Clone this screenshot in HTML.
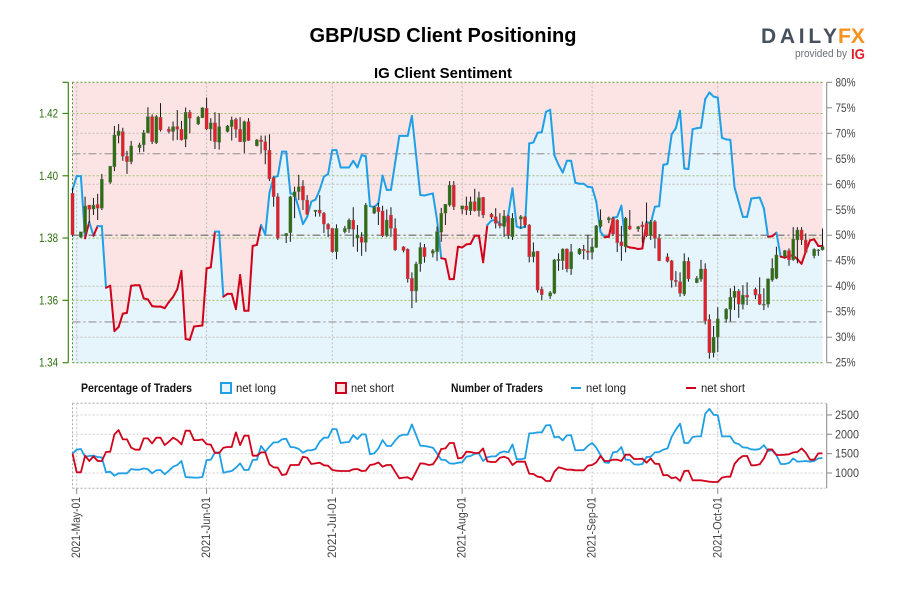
<!DOCTYPE html>
<html lang="en">
<head>
<meta charset="utf-8">
<title>GBP/USD Client Positioning</title>
<style>
html,body{margin:0;padding:0;background:#fff;width:900px;height:600px;overflow:hidden}
svg{display:block}
text{font-family:"Liberation Sans",Arial,sans-serif}
</style>
</head>
<body>
<svg id="chart" xmlns="http://www.w3.org/2000/svg" width="900" height="600" viewBox="0 0 900 600">
  <rect x="0" y="0" width="900" height="600" fill="#ffffff"/>
  <text x="443" y="42" text-anchor="middle" font-size="20" font-weight="bold" fill="#000" textLength="267" lengthAdjust="spacingAndGlyphs">GBP/USD Client Positioning</text>
  <text x="443" y="78" text-anchor="middle" font-size="15" font-weight="bold" fill="#000" textLength="138" lengthAdjust="spacingAndGlyphs">IG Client Sentiment</text>
  <g>
    <text x="761" y="43" font-size="21" font-weight="bold" fill="#47505c" textLength="76" lengthAdjust="spacing">DAILY</text>
    <text x="838" y="43" font-size="21" font-weight="bold" fill="#f7921e" textLength="27" lengthAdjust="spacingAndGlyphs">FX</text>
    <text x="795" y="57" font-size="11" fill="#6b7078" textLength="52" lengthAdjust="spacingAndGlyphs">provided by</text>
    <text x="851" y="59" font-size="15" font-weight="bold" fill="#e0202e" textLength="14" lengthAdjust="spacingAndGlyphs">IG</text>
  </g>
  <g id="main-panel"></g>
  <g id="lower-panel"></g>
  <g font-size="12" fill="#222">
    <text x="81" y="392" font-weight="bold" fill="#111" textLength="111" lengthAdjust="spacingAndGlyphs">Percentage of Traders</text>
    <rect x="221" y="383" width="10" height="10" fill="#e6f4fc" stroke="#1f9fe6" stroke-width="2"/>
    <text x="236" y="392" textLength="40" lengthAdjust="spacingAndGlyphs">net long</text>
    <rect x="336" y="383" width="10" height="10" fill="#fce4e4" stroke="#d0021b" stroke-width="2"/>
    <text x="351" y="392" textLength="43" lengthAdjust="spacingAndGlyphs">net short</text>
    <text x="451" y="392" font-weight="bold" fill="#111" textLength="92" lengthAdjust="spacingAndGlyphs">Number of Traders</text>
    <line x1="571" y1="388" x2="581" y2="388" stroke="#1f9fe6" stroke-width="2"/>
    <text x="586" y="392" textLength="40" lengthAdjust="spacingAndGlyphs">net long</text>
    <line x1="686" y1="388" x2="696" y2="388" stroke="#d0021b" stroke-width="2"/>
    <text x="701" y="392" textLength="44" lengthAdjust="spacingAndGlyphs">net short</text>
  </g>
</svg>
<script>
var dateTickDays = [0,31,61,92,123,153];
var dateTickLabels = ["2021-May-01","2021-Jun-01","2021-Jul-01","2021-Aug-01","2021-Sep-01","2021-Oct-01"];
var priceTicks = [1.34,1.36,1.38,1.40,1.42];
var priceTickLabels = ["1.34","1.36","1.38","1.40","1.42"];
var percentTicks = [25,30,35,40,45,50,55,60,65,70,75,80];
var percentGrid = [30,40,60,70];
var percentLevels = [66,50,33];
var traderTicks = [1000,1500,2000,2500];

var firstSeriesDay = -1;
var percentLong = [58.9,61.6,61.6,49.4,52.6,49.9,51.8,51.8,39.7,40.1,31.2,32.0,34.6,34.8,40.1,40.2,40.2,37.6,37.4,36.1,36.0,36.0,35.7,36.9,37.9,39.4,43.0,29.65,29.5,32.1,32.2,32.3,43.5,43.7,50.7,50.7,37.95,38.5,38.5,35.5,42.2,35.2,35.2,47.9,48.1,52.0,50.1,58.3,61.4,61.6,66.4,66.4,58.2,58.0,55.3,52.2,53.6,56.6,57.0,58.9,61.5,62.0,66.7,66.7,63.3,63.3,63.3,64.6,63.3,65.7,65.5,55.7,55.5,56.3,61.7,58.9,58.9,64.2,69.5,69.5,69.5,73.4,65.7,57.9,57.8,58.0,58.2,53.0,45.5,45.3,41.4,41.4,47.75,47.6,48.2,48.3,49.9,49.9,44.7,52.0,52.9,53.0,52.2,52.0,54.0,59.2,51.7,51.4,51.7,68.0,68.2,70.1,70.2,74.2,74.6,65.7,63.8,62.3,64.6,64.6,60.3,60.1,60.1,59.5,59.4,56.6,50.7,49.6,49.7,53.4,53.6,55.8,47.9,47.6,47.5,47.3,47.4,52.6,52.3,55.6,55.7,63.8,64.0,69.8,71.0,74.4,63.1,63.0,70.8,71.0,71.1,76.7,78.0,77.2,77.0,69.1,68.8,68.7,59.4,56.5,53.6,53.6,57.2,57.3,57.4,55.3,49.7,49.8,50.5,45.8,45.6,46.0,46.0,45.3,44.4,46.8,49.0,49.2,47.9,47.9];

var tradersLong = [1507,1602,1619,1421,1439,1447,1413,1404,1017,1034,931,991,991,991,1103,1086,1086,1120,1095,991,1069,1077,966,1060,1163,1206,1310,897,888,880,880,897,1335,1344,1533,1533,1009,1034,1052,1138,1249,1077,1077,1335,1344,1697,1550,1679,1791,1791,1869,1886,1671,1662,1619,1525,1585,1585,1619,1808,1912,1912,2135,2135,1774,1791,1800,1980,1877,1998,1998,1482,1507,1636,1851,1697,1697,1834,1955,1989,1989,2256,1980,1705,1697,1679,1654,1507,1344,1335,1249,1241,1267,1275,1421,1439,1499,1507,1310,1404,1430,1430,1525,1559,1533,1740,1353,1353,1378,2023,2032,2049,2049,2230,2238,1920,1937,1843,1972,1980,1585,1593,1593,1705,1774,1654,1464,1275,1258,1533,1550,1671,1344,1335,1224,1215,1232,1413,1421,1533,1542,1602,1636,1937,2127,2273,1774,1774,1929,1946,1946,2531,2660,2505,2496,1946,1946,1946,1783,1748,1662,1654,1611,1602,1619,1722,1568,1585,1464,1232,1232,1258,1378,1292,1301,1310,1292,1310,1378,1387];

var tradersShort = [1507,1017,1017,1447,1310,1430,1310,1310,1542,1550,1998,2109,1869,1869,1654,1602,1602,1894,1894,1765,1912,1912,1722,1808,1912,1851,1740,2092,2092,1851,1851,1869,1748,1731,1516,1516,1654,1671,1671,2049,1722,1963,1963,1447,1447,1533,1533,1224,1146,1138,948,966,1206,1206,1206,1421,1396,1232,1249,1267,1198,1189,1077,1060,1052,1052,1052,1095,1103,1052,1060,1206,1224,1275,1163,1206,1206,1034,862,880,888,828,1034,1249,1241,1206,1224,1378,1619,1636,1774,1774,1378,1396,1550,1542,1516,1516,1636,1301,1284,1284,1396,1421,1378,1206,1292,1292,1292,983,974,905,888,794,794,1034,1146,1120,1086,1086,1069,1069,1069,1189,1206,1275,1439,1310,1310,1344,1344,1310,1473,1473,1361,1361,1370,1267,1378,1241,1232,940,948,862,888,794,1052,1060,811,811,811,794,776,768,768,880,905,905,1232,1361,1439,1439,1198,1198,1224,1378,1611,1611,1464,1464,1473,1482,1533,1542,1636,1525,1344,1344,1507,1507];

var candleDays = [-1,1,2,3,4,5,6,8,9,10,11,12,13,15,16,17,18,19,20,22,23,24,25,26,27,29,30,31,32,33,34,36,37,38,39,40,41,43,44,45,46,47,48,50,51,52,53,54,55,57,58,59,60,61,62,64,65,66,67,68,69,71,72,73,74,75,76,78,79,80,81,82,83,85,86,87,88,89,90,92,93,94,95,96,97,99,100,101,102,103,104,106,107,108,109,110,111,113,114,115,116,117,118,120,121,122,123,124,125,127,128,129,130,131,132,134,135,136,137,138,139,141,142,143,144,145,146,148,149,150,151,152,153,155,156,157,158,159,160,162,163,164,165,166,167,169,170,171,172,173,174,176,177,178];

var candleHigh = [1.3961,1.3820,1.3933,1.3906,1.3929,1.3942,1.4006,1.4031,1.4160,1.4166,1.4154,1.4080,1.4112,1.4106,1.4147,1.4220,1.4197,1.4195,1.4233,1.4158,1.4174,1.4211,1.4176,1.4219,1.4211,1.4192,1.4220,1.4251,1.4185,1.4204,1.4201,1.4163,1.4190,1.4186,1.4188,1.4177,1.4185,1.4118,1.4129,1.4129,1.4133,1.3997,1.3944,1.3816,1.3936,1.3965,1.4003,1.3986,1.3938,1.3890,1.3938,1.3884,1.3848,1.3832,1.3844,1.3839,1.3863,1.3899,1.3842,1.3819,1.3913,1.3904,1.3913,1.3904,1.3892,1.3899,1.3863,1.3774,1.3767,1.3690,1.3724,1.3786,1.3781,1.3765,1.3837,1.3897,1.3909,1.3983,1.3983,1.3904,1.3933,1.3933,1.3958,1.3949,1.3931,1.3881,1.3896,1.3880,1.3890,1.3874,1.3880,1.3874,1.3871,1.3845,1.3786,1.3759,1.3644,1.3630,1.3733,1.3751,1.3767,1.3767,1.3781,1.3768,1.3778,1.3810,1.3800,1.3842,1.3892,1.3869,1.3869,1.3861,1.3839,1.3868,1.3890,1.3839,1.3853,1.3914,1.3858,1.3858,1.3813,1.3751,1.3730,1.3694,1.3690,1.3751,1.3738,1.3678,1.3730,1.3719,1.3555,1.3518,1.3578,1.3575,1.3639,1.3647,1.3636,1.3649,1.3658,1.3641,1.3674,1.3639,1.3671,1.3735,1.3772,1.3762,1.3767,1.3835,1.3835,1.3835,1.3815,1.3767,1.3765,1.3831];

var candleLow = [1.3804,1.3800,1.3817,1.3848,1.3874,1.3858,1.3890,1.3974,1.4015,1.4104,1.4048,1.4006,1.4037,1.4075,1.4077,1.4136,1.4102,1.4102,1.4142,1.4136,1.4113,1.4115,1.4113,1.4092,1.4136,1.4163,1.4185,1.4147,1.4112,1.4086,1.4084,1.4139,1.4113,1.4122,1.4109,1.4073,1.4112,1.4094,1.4072,1.4037,1.3983,1.3901,1.3794,1.3784,1.3788,1.3864,1.3922,1.3890,1.3874,1.3869,1.3869,1.3816,1.3803,1.3753,1.3732,1.3815,1.3817,1.3772,1.3756,1.3743,1.3756,1.3877,1.3842,1.3803,1.3803,1.3804,1.3759,1.3754,1.3657,1.3575,1.3593,1.3692,1.3721,1.3738,1.3727,1.3788,1.3842,1.3901,1.3890,1.3877,1.3874,1.3874,1.3885,1.3869,1.3864,1.3861,1.3831,1.3831,1.3804,1.3797,1.3794,1.3831,1.3832,1.3722,1.3722,1.3625,1.3601,1.3605,1.3620,1.3695,1.3698,1.3690,1.3682,1.3746,1.3732,1.3730,1.3732,1.3768,1.3832,1.3848,1.3807,1.3755,1.3727,1.3754,1.3826,1.3820,1.3785,1.3803,1.3794,1.3767,1.3726,1.3722,1.3641,1.3644,1.3612,1.3614,1.3660,1.3655,1.3660,1.3523,1.3413,1.3417,1.3434,1.3528,1.3532,1.3569,1.3544,1.3571,1.3585,1.3604,1.3585,1.3569,1.3577,1.3660,1.3668,1.3738,1.3711,1.3727,1.3719,1.3778,1.3753,1.3735,1.3743,1.3760];

var candleOpen = [1.3944,1.3803,1.3817,1.3906,1.3893,1.3908,1.3896,1.3979,1.4029,1.4129,1.4142,1.4063,1.4045,1.4090,1.4099,1.4138,1.4190,1.4106,1.4188,1.4150,1.4142,1.4158,1.4149,1.4117,1.4204,1.4166,1.4186,1.4217,1.4150,1.4170,1.4107,1.4142,1.4158,1.4181,1.4149,1.4109,1.4174,1.4096,1.4115,1.4109,1.4082,1.3994,1.3933,1.3807,1.3817,1.3933,1.3949,1.3967,1.3922,1.3885,1.3890,1.3880,1.3844,1.3831,1.3756,1.3820,1.3829,1.3858,1.3800,1.3804,1.3786,1.3880,1.3899,1.3887,1.3808,1.3874,1.3831,1.3772,1.3764,1.3671,1.3630,1.3717,1.3770,1.3751,1.3756,1.3819,1.3880,1.3906,1.3970,1.3893,1.3903,1.3888,1.3917,1.3888,1.3931,1.3877,1.3869,1.3847,1.3837,1.3871,1.3804,1.3861,1.3868,1.3842,1.3740,1.3758,1.3636,1.3614,1.3623,1.3727,1.3727,1.3765,1.3701,1.3749,1.3764,1.3759,1.3754,1.3770,1.3837,1.3858,1.3864,1.3858,1.3788,1.3772,1.3839,1.3829,1.3842,1.3847,1.3808,1.3853,1.3799,1.3740,1.3727,1.3665,1.3660,1.3620,1.3726,1.3657,1.3668,1.3701,1.3539,1.3432,1.3482,1.3540,1.3571,1.3609,1.3630,1.3587,1.3617,1.3636,1.3620,1.3585,1.3588,1.3665,1.3671,1.3740,1.3760,1.3730,1.3794,1.3826,1.3794,1.3743,1.3759,1.3762];

var candleClose = [1.3810,1.3820,1.3903,1.3892,1.3906,1.3896,1.3989,1.4031,1.4131,1.4144,1.4063,1.4045,1.4096,1.4099,1.4138,1.4190,1.4109,1.4190,1.4147,1.4142,1.4158,1.4149,1.4115,1.4204,1.4185,1.4188,1.4218,1.4150,1.4170,1.4109,1.4158,1.4160,1.4179,1.4149,1.4109,1.4174,1.4113,1.4115,1.4109,1.4082,1.3990,1.3933,1.3799,1.3815,1.3933,1.3949,1.3965,1.3922,1.3876,1.3890,1.3880,1.3845,1.3829,1.3756,1.3831,1.3831,1.3858,1.3828,1.3810,1.3786,1.3906,1.3899,1.3885,1.3808,1.3858,1.3831,1.3762,1.3760,1.3669,1.3630,1.3717,1.3770,1.3740,1.3760,1.3821,1.3880,1.3909,1.3970,1.3901,1.3904,1.3890,1.3917,1.3888,1.3930,1.3874,1.3867,1.3847,1.3840,1.3871,1.3810,1.3864,1.3869,1.3842,1.3740,1.3756,1.3633,1.3618,1.3625,1.3730,1.3732,1.3765,1.3701,1.3756,1.3765,1.3759,1.3754,1.3772,1.3839,1.3858,1.3865,1.3813,1.3785,1.3775,1.3864,1.3829,1.3837,1.3836,1.3807,1.3853,1.3799,1.3727,1.3725,1.3665,1.3660,1.3623,1.3726,1.3669,1.3671,1.3701,1.3534,1.3432,1.3482,1.3541,1.3572,1.3610,1.3630,1.3588,1.3617,1.3610,1.3617,1.3587,1.3588,1.3669,1.3703,1.3746,1.3760,1.3730,1.3797,1.3826,1.3794,1.3754,1.3764,1.3762,1.3772];

var SVGNS = "http://www.w3.org/2000/svg";
var mainPanel = document.getElementById("main-panel");
var lowerPanel = document.getElementById("lower-panel");
var plotLeft = 72.5, plotRight = 822.5, axisRight = 826.7;
var mainTop = 82.3, mainBottom = 362.7, lowerTop = 403.3, lowerBottom = 488.3;

function xDay(d){ return 76.7 + 4.19 * d; }
function yPrice(p){ return mainBottom - (p - 1.34) / 0.09 * (mainBottom - mainTop); }
function yPercent(v){ return mainBottom - (v - 25) / 55 * (mainBottom - mainTop); }
function yTraders(v){ return 473 - (v - 1000) * 0.0387; }

function make(tag, attrs, parent){
  var el = document.createElementNS(SVGNS, tag);
  for (var k in attrs) el.setAttribute(k, attrs[k]);
  parent.appendChild(el);
  return el;
}
var el;

/* main panel backgrounds */
el = make("rect", {x:plotLeft, y:mainTop, width:plotRight-plotLeft, height:mainBottom-mainTop, fill:"#fce4e4"}, mainPanel);


var areaPts = [plotLeft.toFixed(1)+","+mainBottom];
percentLong.forEach(function(v,i){ areaPts.push(xDay(i+firstSeriesDay).toFixed(1)+","+yPercent(v).toFixed(1)); });
areaPts.push(plotRight.toFixed(1)+","+mainBottom);
el = make("polygon", {points:areaPts.join(" "), fill:"#e6f4fc"}, mainPanel);



/* percent grid */
percentGrid.forEach(function(v){
  el = make("line", {x1:plotLeft, x2:plotRight, y1:yPercent(v), y2:yPercent(v), stroke:"#c4bcbc", "stroke-width":1, "stroke-dasharray":"2 2"}, mainPanel);
  
  
});
/* price grid */
priceTicks.concat([1.43]).forEach(function(p){
  var isEdge = (p === 1.34 || p === 1.43);
  el = make("line", {x1:plotLeft, x2:plotRight+(isEdge?2:0), y1:yPrice(p), y2:yPrice(p), stroke:isEdge?"#5c9a2c":"#9cc070", "stroke-width":1, "stroke-dasharray":"2 2"}, mainPanel);
  
  
});
/* date grid */
dateTickDays.forEach(function(d){
  el = make("line", {x1:xDay(d), x2:xDay(d), y1:mainTop, y2:mainBottom, stroke:"#c4bcbc", "stroke-width":1, "stroke-dasharray":"2 2"}, mainPanel);
  
  
});
el = make("line", {x1:plotLeft, x2:plotLeft, y1:mainTop, y2:mainBottom, stroke:"#5c8a3c", "stroke-width":1, "stroke-dasharray":"2 2"}, mainPanel);



/* sentiment levels */
percentLevels.forEach(function(v,i){
  el = make("line", {x1:plotLeft, x2:plotRight, y1:yPercent(v), y2:yPercent(v), stroke:i===1?"#8a8a8a":"#aaa6a6", "stroke-width":i===1?1.6:1.3, "stroke-dasharray":"8 3 2 3"}, mainPanel);
  
  
});

/* sentiment line: each segment takes the colour of its start point */
percentLong.forEach(function(v,i){
  if (i === percentLong.length-1) return;
  var d = i + firstSeriesDay;
  el = make("line", {x1:xDay(d), y1:yPercent(v), x2:xDay(d+1), y2:yPercent(percentLong[i+1]), stroke:v>=50?"#1f9fe6":"#d0021b", "stroke-width":2, "stroke-linecap":"round"}, mainPanel);
  
  
});

/* candles */
candleDays.forEach(function(d,i){
  var up = candleClose[i] >= candleOpen[i];
  var x = xDay(d);
  var top = yPrice(Math.max(candleOpen[i], candleClose[i]));
  var bottom = yPrice(Math.min(candleOpen[i], candleClose[i]));
  el = make("line", {x1:x, x2:x, y1:yPrice(candleHigh[i]), y2:yPrice(candleLow[i]), stroke:"#1a1a1a", "stroke-width":1}, mainPanel);
  
  
  el = make("rect", {x:x-1.6, y:top, width:3.2, height:Math.max(bottom-top,1), fill:up?"#2e6e12":"#e0202a", stroke:"#777", "stroke-width":0.3}, mainPanel);
  
  
});

/* left price axis */
el = make("line", {x1:68.3, x2:68.3, y1:mainTop, y2:mainBottom, stroke:"#3c8a0c", "stroke-width":1.2}, mainPanel);


priceTicks.concat([1.43]).forEach(function(p){
  el = make("line", {x1:62.5, x2:68.3, y1:yPrice(p), y2:yPrice(p), stroke:"#3c8a0c", "stroke-width":1.2}, mainPanel);
  
  
});
priceTicks.forEach(function(p,i){
  el = make("text", {x:39, y:yPrice(p)+4, "font-size":12, fill:"#2c6e0e", textLength:19, lengthAdjust:"spacingAndGlyphs"}, mainPanel);
  el.textContent = priceTickLabels[i];
  
  
});

/* right percent axis */
el = make("line", {x1:axisRight, x2:axisRight, y1:mainTop, y2:mainBottom, stroke:"#888", "stroke-width":1}, mainPanel);


percentTicks.forEach(function(v){
  el = make("line", {x1:axisRight, x2:832, y1:yPercent(v), y2:yPercent(v), stroke:"#888", "stroke-width":1}, mainPanel);
  
  
  el = make("text", {x:835.5, y:yPercent(v)+4, "font-size":12, fill:"#444", textLength:20, lengthAdjust:"spacingAndGlyphs"}, mainPanel);
  el.textContent = v + "%";
  
  
});

/* lower panel grid */
traderTicks.forEach(function(v){
  el = make("line", {x1:plotLeft, x2:plotRight, y1:yTraders(v), y2:yTraders(v), stroke:"#cfcfcf", "stroke-width":1, "stroke-dasharray":"2 2"}, lowerPanel);
  
  
});
[lowerTop, lowerBottom].forEach(function(y){
  el = make("line", {x1:plotLeft, x2:plotRight+3, y1:y, y2:y, stroke:"#aaa", "stroke-width":1, "stroke-dasharray":"2 2"}, lowerPanel);
  
  
});
el = make("line", {x1:plotLeft, x2:plotLeft, y1:lowerTop, y2:lowerBottom, stroke:"#aaa", "stroke-width":1, "stroke-dasharray":"2 2"}, lowerPanel);


dateTickDays.forEach(function(d,i){
  el = make("line", {x1:xDay(d), x2:xDay(d), y1:lowerTop, y2:lowerBottom, stroke:"#c4c4c4", "stroke-width":1, "stroke-dasharray":"2 2"}, lowerPanel);
  
  
  el = make("line", {x1:xDay(d), x2:xDay(d), y1:lowerBottom, y2:494, stroke:"#888", "stroke-width":1}, lowerPanel);
  
  
  var lx = xDay(d) + 3.5;
  el = make("text", {x:lx, y:558, transform:"rotate(-90 "+lx+" 558)", "font-size":12, fill:"#444", textLength:61, lengthAdjust:"spacingAndGlyphs"}, lowerPanel);
  el.textContent = dateTickLabels[i];
  
  
});

/* lower panel lines */
function seriesPoints(values){
  return values.map(function(v,i){ return xDay(i+firstSeriesDay).toFixed(1)+","+yTraders(v).toFixed(1); }).join(" ");
}
el = make("polyline", {points:seriesPoints(tradersLong), fill:"none", stroke:"#1f9fe6", "stroke-width":1.8, "stroke-linejoin":"round"}, lowerPanel);


el = make("polyline", {points:seriesPoints(tradersShort), fill:"none", stroke:"#d0021b", "stroke-width":1.8, "stroke-linejoin":"round"}, lowerPanel);



/* lower right axis */
el = make("line", {x1:axisRight, x2:axisRight, y1:lowerTop, y2:lowerBottom, stroke:"#888", "stroke-width":1}, lowerPanel);


traderTicks.concat([]).forEach(function(v){
  el = make("line", {x1:axisRight, x2:832, y1:yTraders(v), y2:yTraders(v), stroke:"#888", "stroke-width":1}, lowerPanel);
  
  
  el = make("text", {x:835, y:yTraders(v)+4, "font-size":12, fill:"#444", textLength:24, lengthAdjust:"spacingAndGlyphs"}, lowerPanel);
  el.textContent = String(v);
  
  
});
</script>
</body>
</html>
